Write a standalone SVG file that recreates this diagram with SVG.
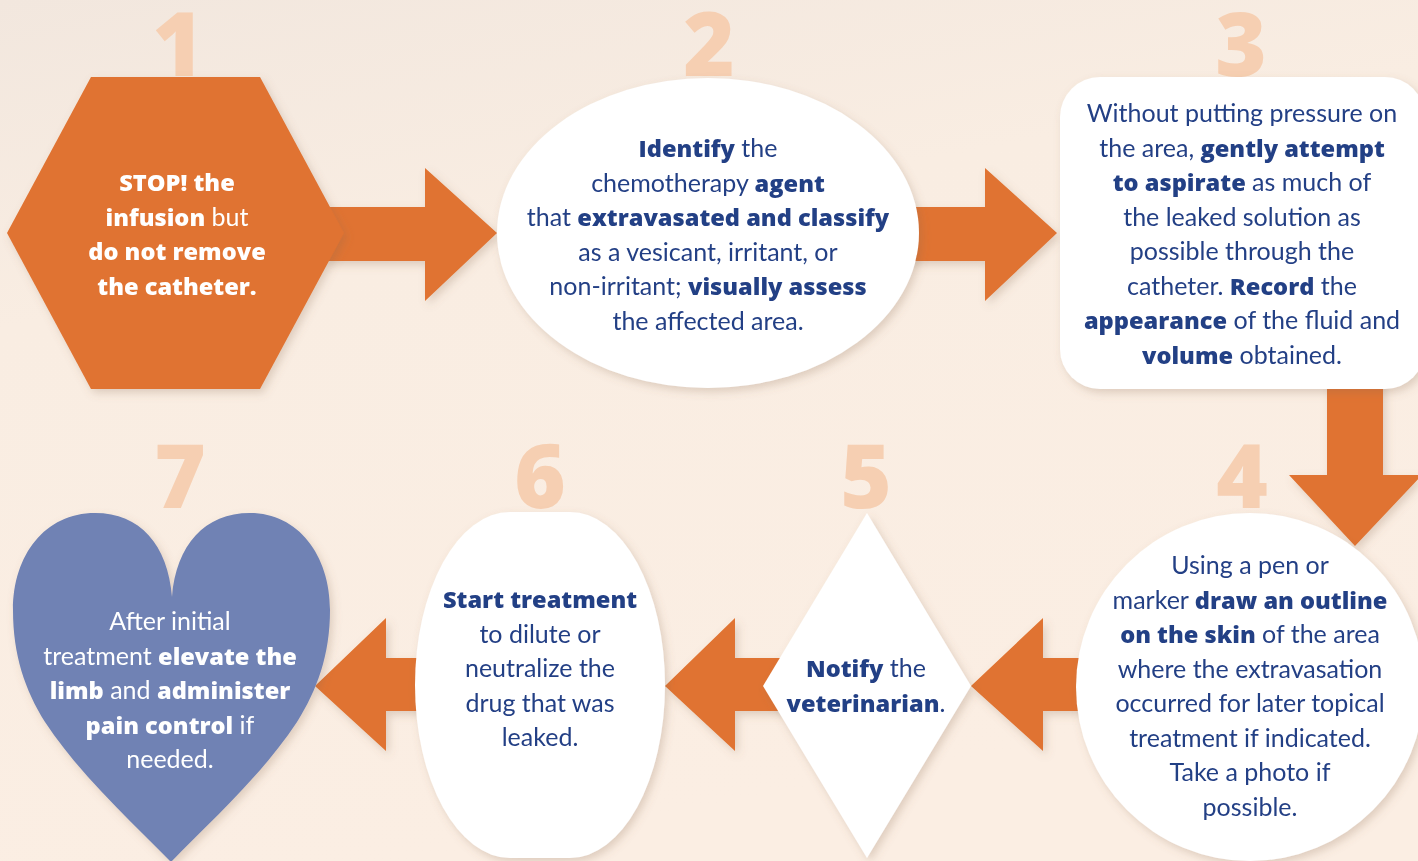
<svg xmlns="http://www.w3.org/2000/svg" width="1418" height="861" viewBox="0 0 1418 861">
<defs>
<linearGradient id="bg" x1="0" y1="0" x2="0.3" y2="1">
<stop offset="0" stop-color="#f2e7de"/>
<stop offset="0.35" stop-color="#f9ede2"/>
<stop offset="1" stop-color="#fbeee3"/>
</linearGradient>
<filter id="sh" x="-10%" y="-10%" width="125%" height="125%">
<feDropShadow dx="3" dy="4" stdDeviation="4" flood-color="#8a6a50" flood-opacity="0.25"/>
</filter>
<style>
.num{font-family:"Open Sans","Liberation Sans",sans-serif;font-weight:800;font-size:88px;fill:#f6cfb2;text-anchor:middle}
.t{font-family:Lato,"Liberation Sans",sans-serif;font-size:25px;fill:#243f85;text-anchor:middle}
.w{fill:#ffffff}
.b{font-family:"Open Sans","Liberation Sans",sans-serif;font-weight:800;font-size:23.6px}
.arr{fill:#e07330;filter:url(#sh)}
.node{filter:url(#sh)}
</style>
</defs>
<rect width="1418" height="861" fill="url(#bg)"/>
<g id="numbers">
<text class="num" x="178" y="76">1</text>
<text class="num" x="709" y="76">2</text>
<text class="num" x="1241" y="76">3</text>
<text class="num" x="1242" y="508">4</text>
<text class="num" x="866" y="508">5</text>
<text class="num" x="540" y="508">6</text>
<text class="num" x="180" y="508">7</text>
</g>
<g id="connectors">
<path class="arr" d="M325 207 H425 V168 L497 233 L425 301 V261 H325 Z"/>
<path class="arr" d="M905 207 H985 V168 L1057 233 L985 301 V261 H905 Z"/>
<path class="arr" d="M1327 380 V475 H1289 L1355 546 L1422 475 H1383 V380 Z"/>
<path class="arr" d="M1090 658 H1043 V618 L971 686 L1043 751 V711 H1090 Z"/>
<path class="arr" d="M790 658 H735 V618 L665 686 L735 751 V711 H790 Z"/>
<path class="arr" d="M425 658 H386 V618 L315 686 L386 751 V711 H425 Z"/>
</g>
<g id="node1" class="node">
<path d="M91 77 H260 L344 233 L260 389 H91 L7 233 Z" fill="#e07330"/>
<text class="t w" x="177" y="191"><tspan class="b">STOP! the</tspan></text>
<text class="t w" x="177" y="225.5"><tspan class="b">infusion</tspan> but</text>
<text class="t w" x="177" y="260"><tspan class="b">do not remove</tspan></text>
<text class="t w" x="177" y="294.5"><tspan class="b">the catheter.</tspan></text>
</g>
<g id="node2" class="node">
<ellipse cx="708" cy="233" rx="211" ry="155" fill="#ffffff"/>
<text class="t" x="708" y="157"><tspan class="b">Identify</tspan> the</text>
<text class="t" x="708" y="191.5">chemotherapy <tspan class="b">agent</tspan></text>
<text class="t" x="708" y="226">that <tspan class="b">extravasated and classify</tspan></text>
<text class="t" x="708" y="260.5">as a vesicant, irritant, or</text>
<text class="t" x="708" y="295">non-irritant; <tspan class="b">visually assess</tspan></text>
<text class="t" x="708" y="329.5">the affected area.</text>
</g>
<g id="node3" class="node">
<rect x="1060" y="77" width="365" height="312" rx="40" fill="#ffffff"/>
<text class="t" x="1242" y="122">Without putting pressure on</text>
<text class="t" x="1242" y="156.5">the area, <tspan class="b">gently attempt</tspan></text>
<text class="t" x="1242" y="191"><tspan class="b">to aspirate</tspan> as much of</text>
<text class="t" x="1242" y="225.5">the leaked solution as</text>
<text class="t" x="1242" y="260">possible through the</text>
<text class="t" x="1242" y="294.5">catheter. <tspan class="b">Record</tspan> the</text>
<text class="t" x="1242" y="329"><tspan class="b">appearance</tspan> of the fluid and</text>
<text class="t" x="1242" y="363.5"><tspan class="b">volume</tspan> obtained.</text>
</g>
<g id="node4" class="node">
<circle cx="1250" cy="687" r="174" fill="#ffffff"/>
<text class="t" x="1250" y="574">Using a pen or</text>
<text class="t" x="1250" y="608.5">marker <tspan class="b">draw an outline</tspan></text>
<text class="t" x="1250" y="643"><tspan class="b">on the skin</tspan> of the area</text>
<text class="t" x="1250" y="677.5">where the extravasation</text>
<text class="t" x="1250" y="712">occurred for later topical</text>
<text class="t" x="1250" y="746.5">treatment if indicated.</text>
<text class="t" x="1250" y="781">Take a photo if</text>
<text class="t" x="1250" y="815.5">possible.</text>
</g>
<g id="node5" class="node">
<path d="M867 513 L971 686 L867 858 L763 686 Z" fill="#ffffff"/>
<text class="t" x="866" y="677"><tspan class="b">Notify</tspan> the</text>
<text class="t" x="866" y="712"><tspan class="b">veterinarian</tspan>.</text>
</g>
<g id="node6" class="node">
<rect x="415" y="512" width="250" height="346" rx="95" ry="173" fill="#ffffff"/>
<text class="t" x="540" y="608"><tspan class="b">Start treatment</tspan></text>
<text class="t" x="540" y="642.5">to dilute or</text>
<text class="t" x="540" y="677">neutralize the</text>
<text class="t" x="540" y="711.5">drug that was</text>
<text class="t" x="540" y="746">leaked.</text>
</g>
<g id="node7" class="node">
<path d="M172 597 C168 545 140 513 95 513 C45 513 13 555 13 610 C13 655 25 690 45 722 C80 775 130 820 171 862 C212 820 262 775 297 722 C317 690 330 655 330 610 C330 555 298 513 250 513 C205 513 176 545 172 597 Z" fill="#6f82b4"/>
<text class="t w" x="170" y="630">After initial</text>
<text class="t w" x="170" y="664.5">treatment <tspan class="b">elevate the</tspan></text>
<text class="t w" x="170" y="699"><tspan class="b">limb</tspan> and <tspan class="b">administer</tspan></text>
<text class="t w" x="170" y="733.5"><tspan class="b">pain control</tspan> if</text>
<text class="t w" x="170" y="768">needed.</text>
</g>
</svg>
